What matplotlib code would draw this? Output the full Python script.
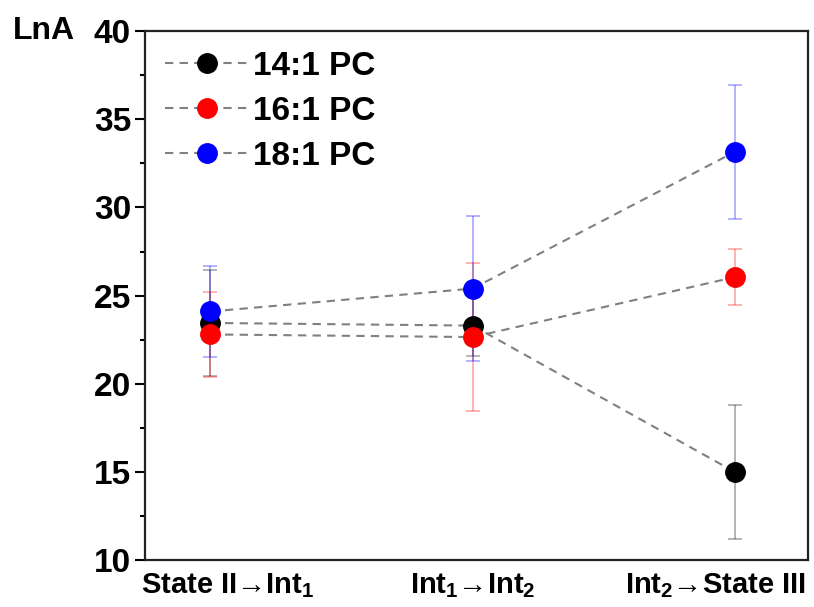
import numpy as np
import matplotlib
matplotlib.use("Agg")
from matplotlib import pyplot as plt
from matplotlib.ticker import MultipleLocator
from matplotlib.transforms import ScaledTranslation

plt.rcParams['font.family'] = ['Liberation Sans', 'DejaVu Sans']
plt.rcParams['font.weight'] = 'bold'
plt.rcParams['mathtext.default'] = 'regular'

categories = ["State II→Int$_{1}$", "Int$_{1}$→Int$_{2}$", "Int$_{2}$→State III"]
labels = ["14:1 PC", "16:1 PC", "18:1 PC"]
colors = ["black", "red", "blue"]

lna_14 = [23.45, 23.3, 15.0]
err_14 = [3.0, 1.7, 3.8]
lna_16 = [22.8, 22.65, 26.05]
err_16 = [2.4, 4.2, 1.6]
lna_18 = [24.1, 25.4, 33.15]
err_18 = [2.6, 4.1, 3.8]

series = [(lna_14, err_14), (lna_16, err_16), (lna_18, err_18)]
x = np.arange(1, len(categories) + 1)

fig = plt.figure(figsize=(8.14, 6.07), dpi=100)
ax = fig.add_axes([0.178, 0.077, 0.815, 0.872])

for (vals, errs), c, lab in zip(series, colors, labels):
    ax.errorbar(x, vals, yerr=errs, fmt='none', ecolor=c, alpha=0.35,
                elinewidth=1.2, capsize=5, capthick=1.2, zorder=2)
    ax.plot(x, vals, linestyle=(0, (4, 3)), color='gray', linewidth=1.5,
            marker='o', markersize=14, markerfacecolor=c, markeredgecolor=c,
            label=lab, zorder=3)

ax.set_xlim(0.75, 3.28)
ax.set_ylim(10, 40)
ax.set_xticks(x)
ax.set_xticklabels(categories, fontsize=21, fontweight='bold')
ax.tick_params(axis='x', length=0, pad=8)
# nudge the outer labels like the original
shifts = [0.17, 0.0, -0.19]
for lab, dx in zip(ax.get_xticklabels(), shifts):
    lab.set_transform(lab.get_transform() + ScaledTranslation(dx, 0, fig.dpi_scale_trans))

ax.yaxis.set_major_locator(MultipleLocator(5))
ax.yaxis.set_minor_locator(MultipleLocator(2.5))
ax.tick_params(axis='y', which='major', direction='out', length=7, width=1.5,
               labelsize=24, pad=3)
ax.tick_params(axis='y', which='minor', direction='out', length=3.5, width=1.5)
for lab in ax.get_yticklabels():
    lab.set_fontweight('bold')
for sp in ax.spines.values():
    sp.set_linewidth(1.6)
    sp.set_color('#222222')

ax.text(-0.105, 1.0, "LnA", transform=ax.transAxes, fontsize=23,
        fontweight='bold', ha='right', va='center')

leg = ax.legend(loc='upper left', frameon=False, fontsize=24,
                handlelength=2.5, borderaxespad=0.3, labelspacing=0.42,
                handletextpad=0.15, borderpad=0.3, markerscale=1.0)
for t in leg.get_texts():
    t.set_fontweight('bold')

fig.savefig("out.png", dpi=100)
